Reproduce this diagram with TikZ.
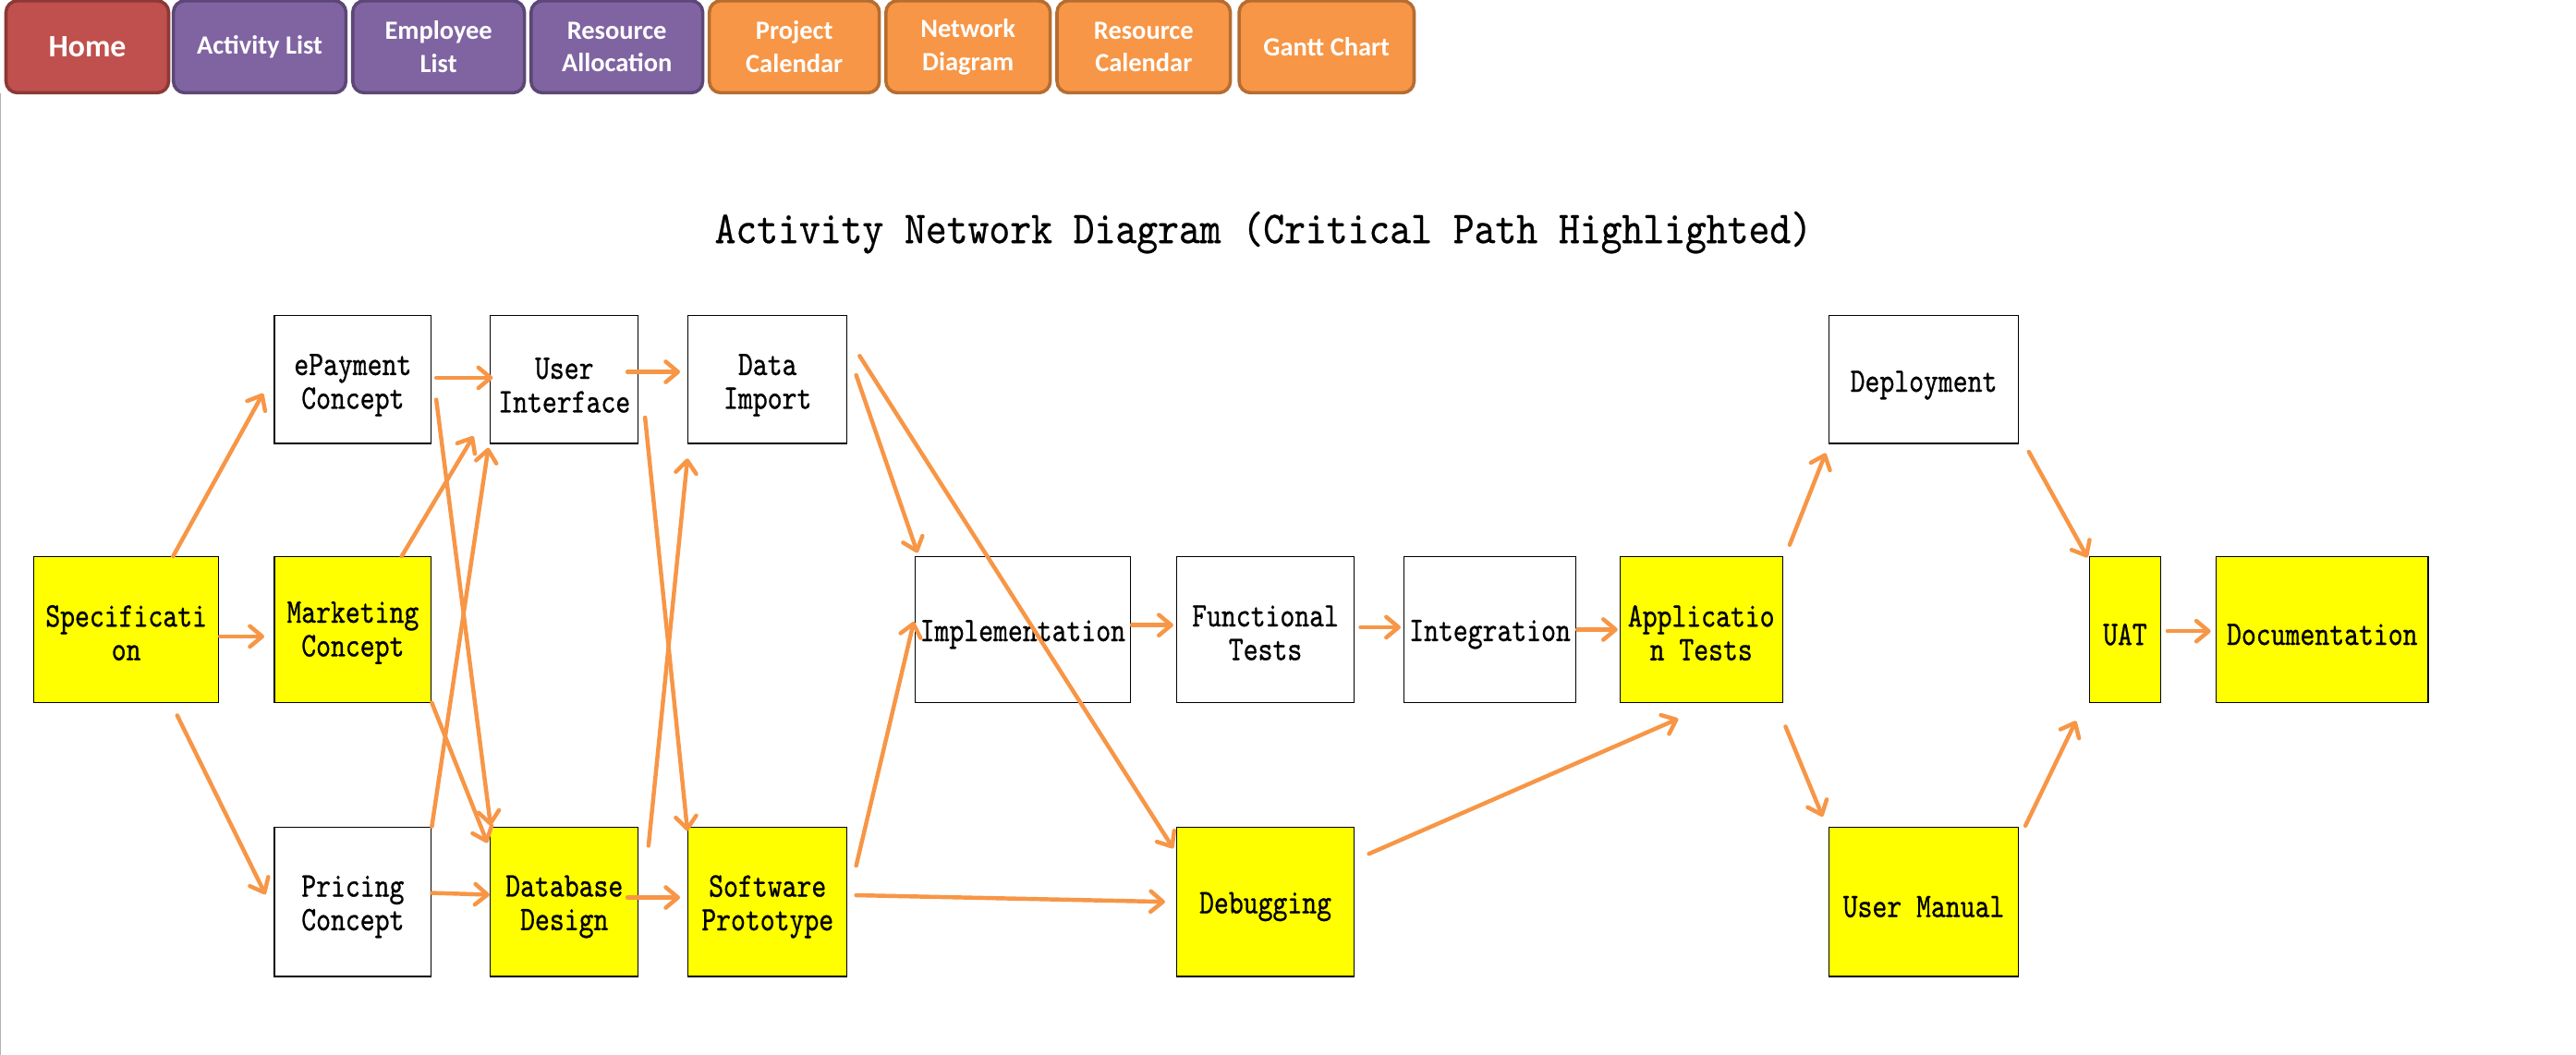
\documentclass[tikz,border=0pt]{standalone}
\usepackage{fontspec}
\usetikzlibrary{arrows.meta}
\newfontfamily\btnfont{Carlito}
\newfontfamily\boxfont{lmmono10-regular.otf}[FakeStretch=0.81,FakeBold=0.7]
\newfontfamily\titlefont{lmmono10-regular.otf}[FakeStretch=0.88,FakeBold=0.5]
\definecolor{arr}{HTML}{F79646}
\definecolor{hl}{HTML}{FFFF00}
\definecolor{redf}{HTML}{C0504D}
\definecolor{redd}{HTML}{8C3836}
\definecolor{purf}{HTML}{8064A2}
\definecolor{purd}{HTML}{5C4776}
\definecolor{orf}{HTML}{F79646}
\definecolor{ord}{HTML}{B66D31}
\tikzset{
  actbox/.style={draw=black, line width=0.7pt, fill=white, inner sep=0pt},
  crit/.style={actbox, fill=hl},
  boxtext/.style={inner sep=0pt, align=center, font=\boxfont\fontsize{21}{20.5}\selectfont},
  toprow/.style={minimum height=78pt},
  midrow/.style={minimum height=88.5pt},
  botrow/.style={minimum height=91pt},
  link/.style={draw=arr, line width=2.5pt, line cap=round,
    -{Straight Barb[length=7.5pt,width=12.5pt,line cap=round,line join=round]}},
  btn/.style={rounded corners=7pt, line width=2pt, text=white, align=center,
    minimum height=56pt, inner sep=0pt, font=\btnfont\bfseries\fontsize{16}{20}\selectfont},
}
\begin{document}
\begin{tikzpicture}[x=1pt,y=-1pt]
\fill[white] (0,0) rectangle (1568,642);
\useasboundingbox (0,0) rectangle (1568,642);
\draw[gray!60, line width=0.8pt] (0.4,57) -- (0.4,642);

% navigation buttons
\node[btn, fill=redf, draw=redd, minimum width=99pt, font=\btnfont\bfseries\fontsize{19}{20}\selectfont] (home) at (53.15,28.5) {Home};
\node[btn, fill=purf, draw=purd, minimum width=105pt] (actlist) at (158.05,28.5) {Activity List};
\node[btn, fill=purf, draw=purd, minimum width=104.5pt] (emplist) at (266.95,28.5) {Employee\\List};
\node[btn, fill=purf, draw=purd, minimum width=104.5pt] (resalloc) at (375.5,28.5) {Resource\\Allocation};
\node[btn, fill=orf, draw=ord, minimum width=103.5pt] (projcal) at (483.5,28.5) {Project\\Calendar};
\node[btn, fill=orf, draw=ord, minimum width=100pt] (netdiag) at (589.25,28.5) {Network\\Diagram};
\node[btn, fill=orf, draw=ord, minimum width=105.5pt] (rescal) at (696.15,28.5) {Resource\\Calendar};
\node[btn, fill=orf, draw=ord, minimum width=106.5pt] (gantt) at (807.5,28.5) {Gantt Chart};

% title
\node[font=\titlefont\fontsize{27.8}{30}\selectfont, anchor=base, inner sep=0pt] (title) at (769,148)
  {Activity Network Diagram (Critical Path Highlighted)};

% activity boxes
\node[crit, midrow, minimum width=112.3pt] (spec) at (76.85,383.25) {};
\node[actbox, toprow, minimum width=95.5pt] (epay) at (214.75,231) {};
\node[crit, midrow, minimum width=95.5pt] (mkt) at (214.75,383.25) {};
\node[actbox, botrow, minimum width=95.5pt] (pric) at (214.75,549) {};
\node[actbox, toprow, minimum width=90pt] (ui) at (343.5,231) {};
\node[crit, botrow, minimum width=90pt] (db) at (343.5,549) {};
\node[actbox, toprow, minimum width=96.8pt] (di) at (467.2,231) {};
\node[crit, botrow, minimum width=96.8pt] (sp) at (467.2,549) {};
\node[actbox, midrow, minimum width=131pt] (impl) at (622.5,383.25) {};
\node[actbox, midrow, minimum width=107.9pt] (ft) at (770.25,383.25) {};
\node[actbox, midrow, minimum width=104.4pt] (integ) at (906.9,383.25) {};
\node[crit, botrow, minimum width=107.9pt] (debug) at (770.25,549) {};
\node[crit, midrow, minimum width=99pt] (app) at (1035.5,383.25) {};
\node[actbox, toprow, minimum width=115.1pt] (dep) at (1170.95,231) {};
\node[crit, botrow, minimum width=115.1pt] (um) at (1170.95,549) {};
\node[crit, midrow, minimum width=43pt] (uat) at (1293.5,383.25) {};
\node[crit, midrow, minimum width=129pt] (doc) at (1413.5,383.25) {};

% activity texts
\node[boxtext] (spec-t) at ([yshift=-2pt]spec.center) {Specificati\\on};
\node[boxtext] (epay-t) at ([yshift=-3.5pt]epay.center) {ePayment\\Concept};
\node[boxtext] (mkt-t) at ([yshift=-2pt]mkt.center) {Marketing\\Concept};
\node[boxtext] (pric-t) at ([yshift=-3pt]pric.center) {Pricing\\Concept};
\node[boxtext] (ui-t) at ([yshift=-3.5pt]ui.center) {User\\Interface};
\node[boxtext] (db-t) at ([yshift=-3pt]db.center) {Database\\Design};
\node[boxtext] (di-t) at ([yshift=-3.5pt]di.center) {Data\\Import};
\node[boxtext] (sp-t) at ([yshift=-3pt]sp.center) {Software\\Prototype};
\node[boxtext] (impl-t) at ([yshift=-3pt]impl.center) {Implementation};
\node[boxtext] (ft-t) at ([yshift=-2pt]ft.center) {Functional\\Tests};
\node[boxtext] (integ-t) at ([yshift=-3pt]integ.center) {Integration};
\node[boxtext] (debug-t) at ([yshift=-3pt]debug.center) {Debugging};
\node[boxtext] (app-t) at ([yshift=-2pt]app.center) {Applicatio\\n Tests};
\node[boxtext] (dep-t) at ([yshift=-3.5pt]dep.center) {Deployment};
\node[boxtext] (um-t) at ([yshift=-3pt]um.center) {User Manual};
\node[boxtext] (uat-t) at ([yshift=-3pt]uat.center) {UAT};
\node[boxtext] (doc-t) at ([yshift=-3pt]doc.center) {Documentation};

% connectors
\draw[link] ([shift={(28.5,0)}]spec.north) -- ([shift={(-6.5,8.5)}]epay.west);
\draw[link] ([shift={(0.6,4.2)}]spec.east) -- ([shift={(-5.8,4.2)}]mkt.west);
\draw[link] ([shift={(31,7.7)}]spec.south) -- ([shift={(-5.1,-4.5)}]pric.west);
\draw[link] ([shift={(2.7,-1)}]epay.east) -- ([shift={(1.8,-1)}]ui.west);
\draw[link] ([shift={(2.7,12.3)}]epay.east) -- ([shift={(0.5,-0.5)}]db.north west);
\draw[link] ([shift={(29.75,0)}]mkt.north) -- ([shift={(-10,-4.8)}]ui.south west);
\draw[link] (pric.north east) -- ([shift={(-0.9,2.2)}]ui.south west);
\draw[link] (mkt.south east) -- ([shift={(-1.5,10)}]db.north west);
\draw[link] ([shift={(0,-5.4)}]pric.east) -- ([shift={(-0.2,-4.3)}]db.west);
\draw[link] ([shift={(-6.9,-4.6)}]ui.east) -- ([shift={(-4.5,-4.6)}]di.west);
\draw[link] ([shift={(3.8,23.2)}]ui.east) -- ([shift={(0,2.7)}]sp.north west);
\draw[link] ([shift={(5.9,11.7)}]db.north east) -- ([shift={(0,8.8)}]di.south west);
\draw[link] ([shift={(-6.9,-2.6)}]db.east) -- ([shift={(-4.5,-2.6)}]sp.west);
\draw[link] ([shift={(5.2,-2.6)}]di.east) -- ([shift={(1.8,-2.1)}]impl.north west);
\draw[link] ([shift={(7.3,-14.3)}]di.east) -- ([shift={(-1.8,13.3)}]debug.north west);
\draw[link] ([shift={(5.2,-22)}]sp.east) -- ([shift={(-0.4,-4.8)}]impl.west);
\draw[link] ([shift={(5.2,-4)}]sp.east) -- ([shift={(-6.8,0)}]debug.west);
\draw[link] ([shift={(0.6,-2.7)}]impl.east) -- ([shift={(-1.8,-2.7)}]ft.west);
\draw[link] ([shift={(3.6,-1.4)}]ft.east) -- ([shift={(-1.8,-1.4)}]integ.west);
\draw[link] ([shift={(0.7,0)}]integ.east) -- ([shift={(-1,0)}]app.west);
\draw[link] ([shift={(8.7,-29.2)}]debug.east) -- ([shift={(-14,9.7)}]app.south);
\draw[link] ([shift={(4,-7)}]app.north east) -- ([shift={(-1.8,5.5)}]dep.south west);
\draw[link] ([shift={(1.5,14.5)}]app.south east) -- ([shift={(-3.6,-6)}]um.north west);
\draw[link] ([shift={(6.1,4.7)}]dep.south east) -- ([shift={(-1,0.7)}]uat.north west);
\draw[link] ([shift={(4,-0.5)}]um.north east) -- ([shift={(-8,11)}]uat.south west);
\draw[link] ([shift={(4,1)}]uat.east) -- ([shift={(-3,1)}]doc.west);
\end{tikzpicture}
\end{document}
